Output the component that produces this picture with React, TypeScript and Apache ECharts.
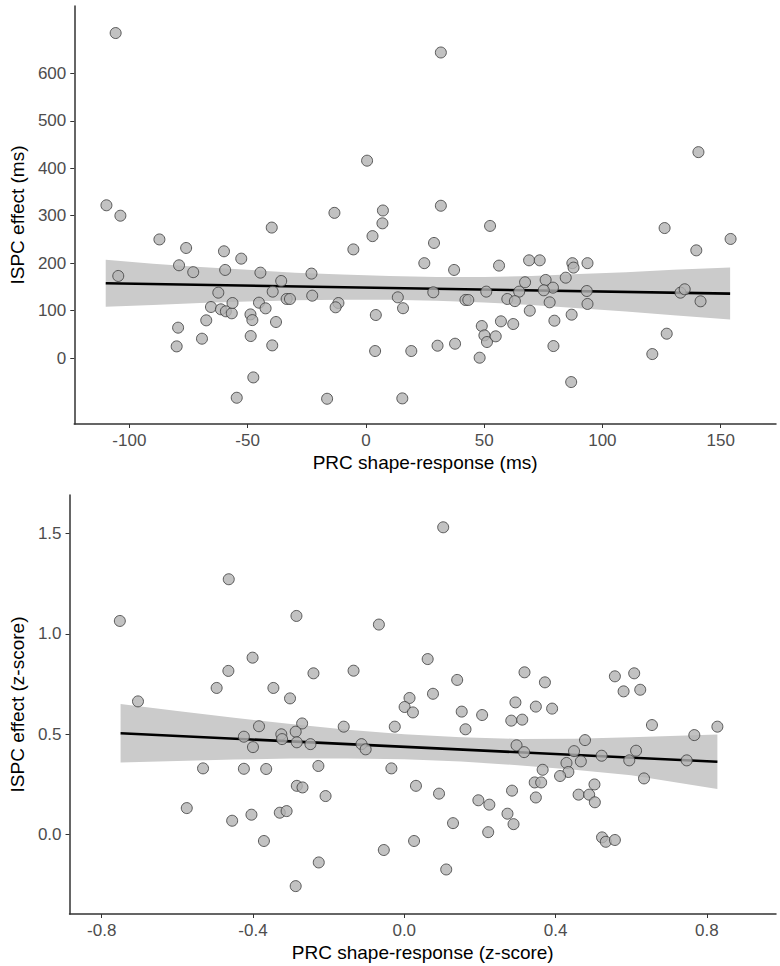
import React, { useEffect, useRef } from "react";
import * as echarts from "echarts";

// ---------- Top panel (ms) ----------
const msPoints: [number, number][] = [
  [-105.8, 685], [0.5, 416], [-109.7, 322], [-103.8, 300], [-13.3, 306], [7.2, 311], [7, 284],
  [31.7, 644], [140.6, 434], [31.7, 321], [-87.3, 250], [-76, 232], [-39.8, 275], [-60, 225],
  [-52.7, 209.5], [2.8, 257], [-5.3, 229], [24.7, 200], [-79, 195.5], [-104.7, 173], [-73, 181],
  [-59.5, 185.7], [-44.6, 180], [-23, 178], [-35.8, 162.4], [-62.4, 137.8], [-39.4, 140],
  [-22.7, 131.5], [-33.5, 124.5], [-32.1, 124.5], [13.5, 128], [15.7, 105], [-11.6, 116],
  [-12.8, 107], [-65.5, 107.6], [-61.3, 102.7], [-59.2, 98.5], [-56.7, 94.3], [-56.4, 116],
  [-45.2, 116.7], [-42.4, 104.8], [-48.8, 92], [-48, 80], [-38, 76], [4.2, 90.7], [-79.4, 64],
  [-67.5, 79.5], [-69.3, 40.8], [-80, 24.6], [-48.7, 46.4], [-39.6, 26.7], [3.9, 14.8],
  [19.2, 14.8], [-47.6, -40.8], [-54.6, -83.7], [-16.4, -85.8], [15.4, -85], [52.5, 278.5],
  [28.8, 242.6], [126.3, 274], [154.2, 251], [139.7, 227], [37.3, 185.7], [56.3, 194.8],
  [69, 206], [73.5, 206], [87.3, 200], [87.8, 190.6], [93.7, 200], [84.5, 169.4], [67.3, 159.7],
  [76, 164.6], [79.1, 148.4], [75.2, 142.8], [64.8, 140], [50.9, 140], [28.5, 138.6],
  [93.4, 141.3], [133, 137.8], [134.8, 145], [59.8, 124.5], [63, 120], [42.1, 122.4],
  [43.3, 122.4], [77.7, 117.5], [93.7, 114], [141.5, 119.6], [69.3, 99.8], [87, 91.4],
  [57.1, 77.4], [62.3, 71.7], [79.7, 78.7], [49, 67.5], [50.1, 47.8], [51.2, 33.8],
  [54.9, 45.8], [30.3, 26], [37.7, 30.2], [48.1, 0.7], [79.3, 25.3], [127.2, 51.3],
  [121.1, 8.4], [86.8, -50.6],
];
const msFitX = [-110, 154];
const msFitY = [157.6, 135.7];
const msBandX = [-110, -90, -70, -50, -30, -10, 10, 30, 50, 70, 90, 110, 130, 154];
const msBandLow = [108, 112, 116, 119, 122, 123, 123, 121, 117, 112, 105, 98, 90, 81];
const msBandHigh = [207, 199, 192, 186, 180, 176, 173, 171, 171, 173, 177, 181, 186, 191];
const msXTicks = [-100, -50, 0, 50, 100, 150];
const msYTicks = [0, 100, 200, 300, 400, 500, 600];

// ---------- Bottom panel (z-score) ----------
const zPoints: [number, number][] = [
  [-0.464, 1.272], [-0.752, 1.064], [-0.285, 1.089], [-0.067, 1.046], [-0.401, 0.881],
  [-0.465, 0.815], [-0.24, 0.803], [-0.134, 0.816], [-0.496, 0.73], [-0.346, 0.73],
  [-0.302, 0.678], [-0.704, 0.663], [0.014, 0.68], [0.001, 0.635], [0.023, 0.608],
  [0.103, 1.531], [0.062, 0.874], [0.14, 0.77], [0.076, 0.701], [0.318, 0.808], [0.372, 0.758],
  [0.557, 0.788], [0.608, 0.803], [0.58, 0.713], [0.624, 0.721], [0.294, 0.658], [0.348, 0.637],
  [0.391, 0.627], [-0.384, 0.539], [-0.27, 0.553], [-0.16, 0.537], [-0.025, 0.537],
  [-0.287, 0.512], [-0.424, 0.487], [-0.325, 0.499], [-0.323, 0.475], [-0.284, 0.459],
  [-0.248, 0.45], [-0.4, 0.435], [-0.113, 0.45], [-0.102, 0.424], [-0.532, 0.329],
  [-0.424, 0.327], [-0.365, 0.326], [-0.227, 0.341], [-0.034, 0.329], [-0.284, 0.242],
  [-0.269, 0.234], [0.031, 0.242], [-0.208, 0.191], [-0.575, 0.131], [-0.455, 0.068],
  [-0.404, 0.098], [-0.329, 0.108], [-0.311, 0.116], [-0.371, -0.033], [-0.054, -0.078],
  [0.026, -0.033], [-0.226, -0.14], [-0.287, -0.258], [0.152, 0.612], [0.206, 0.595],
  [0.283, 0.567], [0.312, 0.572], [0.162, 0.524], [0.655, 0.545], [0.828, 0.537],
  [0.767, 0.495], [0.478, 0.47], [0.297, 0.444], [0.317, 0.41], [0.449, 0.415], [0.522, 0.392],
  [0.613, 0.417], [0.595, 0.369], [0.747, 0.369], [0.429, 0.356], [0.467, 0.364],
  [0.366, 0.322], [0.434, 0.311], [0.412, 0.291], [0.634, 0.279], [0.345, 0.259],
  [0.362, 0.259], [0.503, 0.249], [0.092, 0.203], [0.285, 0.218], [0.348, 0.184],
  [0.461, 0.198], [0.489, 0.198], [0.504, 0.16], [0.196, 0.17], [0.225, 0.148], [0.273, 0.103],
  [0.289, 0.051], [0.129, 0.056], [0.222, 0.011], [0.523, -0.015], [0.533, -0.037],
  [0.557, -0.028], [0.111, -0.175],
];
const zFitX = [-0.75, 0.828];
const zFitY = [0.504, 0.362];
const zBandX = [-0.75, -0.6, -0.45, -0.3, -0.15, 0, 0.15, 0.3, 0.45, 0.6, 0.828];
const zBandLow = [0.358, 0.366, 0.373, 0.378, 0.378, 0.375, 0.363, 0.345, 0.322, 0.295, 0.226];
const zBandHigh = [0.65, 0.615, 0.581, 0.55, 0.522, 0.499, 0.484, 0.476, 0.477, 0.484, 0.498];
const zXTicks = [-0.8, -0.4, 0, 0.4, 0.8];
const zYTicks = [0, 0.5, 1, 1.5];

const FONT = "Liberation Sans, Arial, sans-serif";
const AXIS_COLOR = "#333333";
const LABEL_COLOR = "#4d4d4d";

function makeAxis(
  gridIndex: number,
  min: number,
  max: number,
  ticks: number[],
  name: string,
  nameGap: number,
  fmt: (v: number) => string
) {
  return {
    type: "value",
    gridIndex,
    min,
    max,
    name,
    nameLocation: "middle",
    nameGap,
    nameTextStyle: { fontFamily: FONT, fontSize: 19, color: "#000" },
    axisLine: { show: true, onZero: false, lineStyle: { color: AXIS_COLOR, width: 1.5 } },
    axisTick: {
      show: true,
      length: 4,
      customValues: ticks,
      lineStyle: { color: AXIS_COLOR, width: 1 },
    },
    axisLabel: {
      show: true,
      customValues: ticks,
      margin: 8,
      fontFamily: FONT,
      fontSize: 17,
      color: LABEL_COLOR,
      formatter: (v: number) => fmt(v),
    },
    splitLine: { show: false },
  };
}

function panelSeries(
  idx: number,
  points: [number, number][],
  fitX: number[],
  fitY: number[],
  bandX: number[],
  low: number[],
  high: number[]
) {
  return [
    {
      type: "custom",
      xAxisIndex: idx,
      yAxisIndex: idx,
      data: bandX.map((x, i) => [x, low[i], high[i]]),
      encode: { x: 0, y: [1, 2] },
      silent: true,
      z: 1,
      renderItem: (params: any, api: any) => {
        if (params.dataIndex !== 0) return null;
        const upper = bandX.map((x, i) => api.coord([x, high[i]]));
        const lower = bandX.map((x, i) => api.coord([x, low[i]])).reverse();
        return {
          type: "polygon",
          shape: { points: upper.concat(lower) },
          style: { fill: "#cbcbcb", stroke: "none" },
        };
      },
    },
    {
      type: "line",
      xAxisIndex: idx,
      yAxisIndex: idx,
      data: fitX.map((x, i) => [x, fitY[i]]),
      symbol: "none",
      lineStyle: { color: "#000", width: 2.6 },
      silent: true,
      z: 2,
    },
    {
      type: "scatter",
      xAxisIndex: idx,
      yAxisIndex: idx,
      data: points,
      symbol: "circle",
      symbolSize: 11,
      itemStyle: { color: "#b3b3b3", borderColor: "#3a3a3a", borderWidth: 1 },
      z: 3,
    },
  ];
}

export default function App() {
  const ref = useRef<HTMLDivElement>(null);

  useEffect(() => {
    document.body.style.margin = "0";
    if (!ref.current) return;
    const chart = echarts.init(ref.current, undefined, { renderer: "svg" });
    const intFmt = (v: number) => String(Math.round(v));
    const decFmt = (v: number) => (Math.abs(v) < 1e-9 ? "0.0" : v.toFixed(1));
    chart.setOption({
      animation: false,
      backgroundColor: "#ffffff",
      grid: [
        { left: 71, top: 6, width: 705, height: 418, containLabel: false },
        { left: 66, top: 495, width: 710, height: 419, containLabel: false },
      ],
      xAxis: [
        makeAxis(0, -123.3, 173.4, msXTicks, "PRC shape-response (ms)", 29, intFmt),
        makeAxis(1, -0.885, 0.983, zXTicks, "PRC shape-response (z-score)", 29, decFmt),
      ],
      yAxis: [
        makeAxis(0, -139, 742, msYTicks, "ISPC effect (ms)", 44, intFmt),
        makeAxis(1, -0.397, 1.692, zYTicks, "ISPC effect (z-score)", 40, decFmt),
      ],
      series: [
        ...panelSeries(0, msPoints, msFitX, msFitY, msBandX, msBandLow, msBandHigh),
        ...panelSeries(1, zPoints, zFitX, zFitY, zBandX, zBandLow, zBandHigh),
      ],
    });
    return () => chart.dispose();
  }, []);

  return <div ref={ref} style={{ width: 780, height: 966 }} />;
}
